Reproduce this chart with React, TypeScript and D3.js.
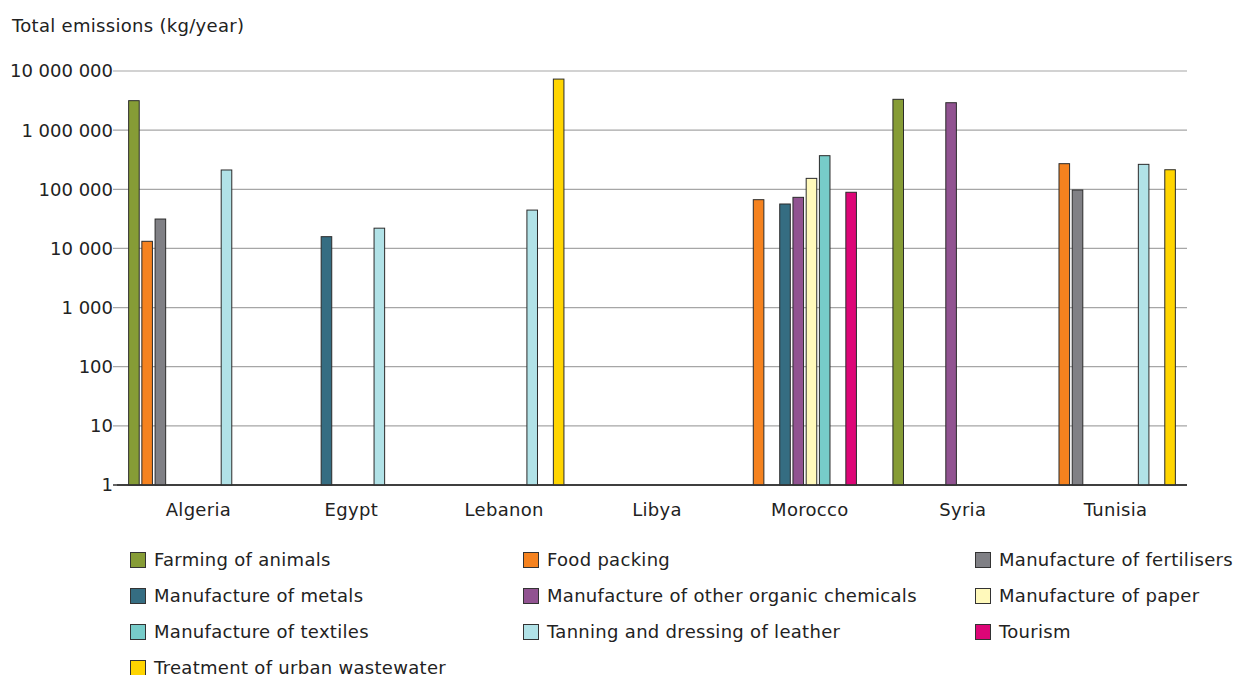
import React, { useEffect } from "react";
import * as d3 from "d3";

const countries = ["Algeria", "Egypt", "Lebanon", "Libya", "Morocco", "Syria", "Tunisia"];

const seriesNames = [
  "Farming of animals",
  "Food packing",
  "Manufacture of fertilisers",
  "Manufacture of metals",
  "Manufacture of other organic chemicals",
  "Manufacture of paper",
  "Manufacture of textiles",
  "Tanning and dressing of leather",
  "Tourism",
  "Treatment of urban wastewater",
];

const seriesColors = [
  "#869c36",
  "#f5821f",
  "#808085",
  "#356d82",
  "#915391",
  "#fff9bb",
  "#77ccc9",
  "#b1e2e7",
  "#dd0677",
  "#ffd500",
];

// values per series, in country order (null = no bar)
const farmingOfAnimals = [3150000, null, null, null, null, 3320000, null];
const foodPacking = [13200, null, null, null, 66700, null, 271000];
const fertilisers = [31400, null, null, null, null, null, 97300];
const metals = [null, 15800, null, null, 56400, null, null];
const organicChemicals = [null, null, null, null, 73100, 2910000, null];
const paper = [null, null, null, null, 153000, null, null];
const textiles = [null, null, null, null, 370000, null, null];
const tanning = [212000, 22000, 44500, null, null, null, 264000];
const tourism = [null, null, null, null, 89000, null, null];
const wastewater = [null, null, 7300000, null, null, null, 214000];

const seriesValues = [
  farmingOfAnimals,
  foodPacking,
  fertilisers,
  metals,
  organicChemicals,
  paper,
  textiles,
  tanning,
  tourism,
  wastewater,
];

const yTicks = [1, 10, 100, 1000, 10000, 100000, 1000000, 10000000];
const yTitle = "Total emissions (kg/year)";

const FONT = "'DejaVu Sans', Verdana, sans-serif";

export default function App() {
  useEffect(() => {
    document.body.style.margin = "0";
  }, []);

  const W = 1236;
  const H = 675;
  const left = 117;
  const right = 1187;
  const top = 71;
  const bottom = 485;

  const x0 = d3.scaleBand<string>().domain(countries).range([left, right]).padding(0);
  const x1 = d3
    .scaleBand<string>()
    .domain(seriesNames)
    .range([0, x0.bandwidth()])
    .paddingInner(0.2)
    .paddingOuter(0.88);
  const y = d3.scaleLog().domain([1, 1e7]).range([bottom, top]);
  const fmt = (v: number) => d3.format(",")(v).replace(/,/g, " ");

  const legendCols = [130, 523, 975];
  const legendRow0 = 560;
  const legendStep = 36;
  const LS = 0.3;

  return (
    <svg width={W} height={H} style={{ display: "block", background: "#fff" }} fontFamily={FONT}>
      <text x={12} y={32} fontSize={18} fill="#222" letterSpacing={LS}>
        {yTitle}
      </text>

      {yTicks.map((t) => (
        <g key={t}>
          <line
            x1={left - 4}
            x2={right}
            y1={y(t)}
            y2={y(t)}
            stroke={t === 1 ? "#333" : "#a6a6a6"}
            strokeWidth={t === 1 ? 1.5 : 1.2}
          />
          <text x={left - 4} y={y(t)} dy="0.36em" textAnchor="end" fontSize={18} fill="#222">
            {fmt(t)}
          </text>
        </g>
      ))}

      {countries.map((c) => (
        <text
          key={c}
          x={(x0(c) as number) + x0.bandwidth() / 2 + 5}
          y={516}
          textAnchor="middle"
          fontSize={18}
          fill="#222"
          letterSpacing={LS}
        >
          {c}
        </text>
      ))}

      {seriesNames.map((s, si) =>
        countries.map((c, ci) => {
          const v = seriesValues[si][ci];
          if (v == null) return null;
          const bx = (x0(c) as number) + (x1(s) as number);
          const by = y(v);
          return (
            <rect
              key={s + c}
              x={bx}
              y={by}
              width={x1.bandwidth()}
              height={bottom - by}
              fill={seriesColors[si]}
              stroke="#2b2b2b"
              strokeWidth={1}
            />
          );
        })
      )}

      <line x1={left} x2={right} y1={bottom} y2={bottom} stroke="#333" strokeWidth={1.5} />

      {seriesNames.map((s, i) => {
        const col = i % 3;
        const row = Math.floor(i / 3);
        const lx = legendCols[col];
        const ly = legendRow0 + row * legendStep;
        return (
          <g key={s}>
            <rect
              x={lx + 0.5}
              y={ly - 7.5}
              width={15}
              height={15}
              fill={seriesColors[i]}
              stroke="#333"
              strokeWidth={1}
            />
            <text x={lx + 24} y={ly} dy="0.36em" fontSize={18} fill="#222" letterSpacing={LS}>
              {s}
            </text>
          </g>
        );
      })}
    </svg>
  );
}
